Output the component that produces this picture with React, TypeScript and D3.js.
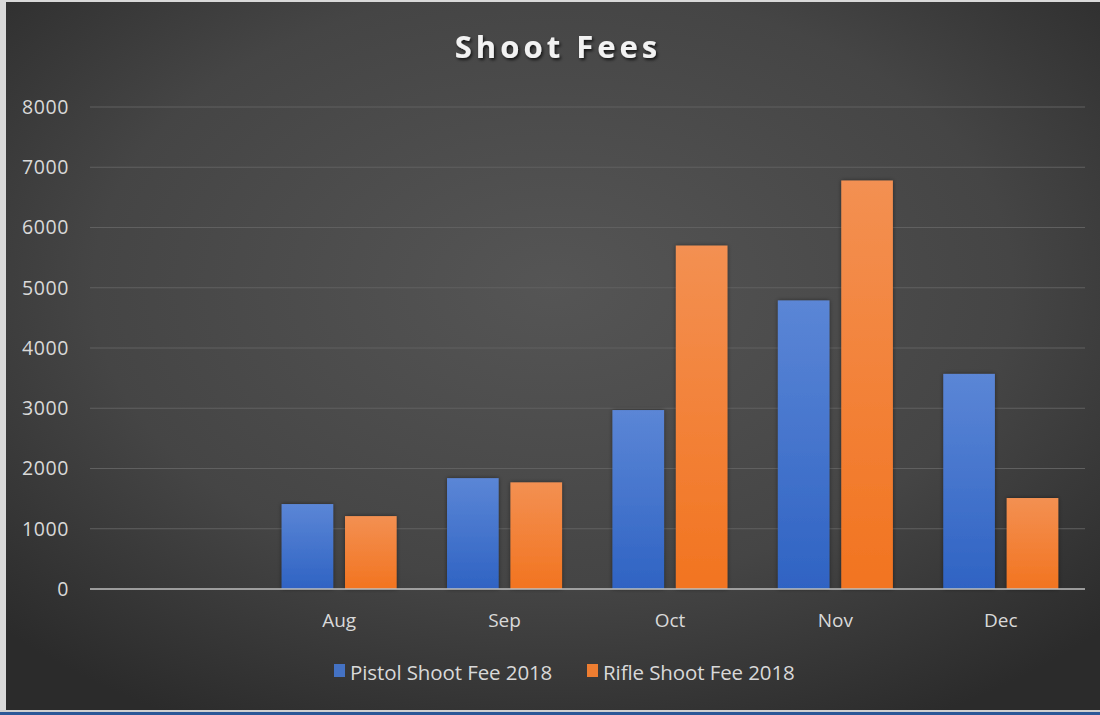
import React from "react";
import * as d3 from "d3";

const categories = ["", "Aug", "Sep", "Oct", "Nov", "Dec"];
const seriesNames = ["Pistol Shoot Fee 2018", "Rifle Shoot Fee 2018"];
const pistol = [null, 1410, 1840, 2970, 4790, 3570];
const rifle = [null, 1210, 1770, 5700, 6780, 1510];
const yTicks = [0, 1000, 2000, 3000, 4000, 5000, 6000, 7000, 8000];

const W = 1100;
const H = 715;
const FONT = "'Open Sans', 'DejaVu Sans', sans-serif";

export default function App() {
  const x0 = d3.scaleBand<string>().domain(categories).range([91, 1083.5]).padding(0);
  const bw = x0.bandwidth();
  const x1 = d3
    .scaleBand<string>()
    .domain(seriesNames)
    .range([25.2, bw - 25.2])
    .paddingInner(0.186)
    .paddingOuter(0);
  const y = d3.scaleLinear().domain([0, 8000]).range([589, 107]);
  const values = [pistol, rifle];
  const fills = ["url(#gBlue)", "url(#gOrange)"];
  const legendColors = ["#4472c4", "#ed7d31"];

  return (
    <svg
      width={W}
      height={H}
      style={{ position: "absolute", left: 0, top: 0, display: "block" }}
    >
      <defs>
        <radialGradient id="bg" cx="50%" cy="40%" r="70%">
          <stop offset="0%" stopColor="#555555" />
          <stop offset="60%" stopColor="#454545" />
          <stop offset="100%" stopColor="#2b2b2b" />
        </radialGradient>
        <linearGradient id="gBlue" x1="0" y1="0" x2="0" y2="1">
          <stop offset="0%" stopColor="#5b86d6" />
          <stop offset="100%" stopColor="#2f63c3" />
        </linearGradient>
        <linearGradient id="gOrange" x1="0" y1="0" x2="0" y2="1">
          <stop offset="0%" stopColor="#f39052" />
          <stop offset="100%" stopColor="#f27420" />
        </linearGradient>
        <filter id="shadow" x="-10%" y="-30%" width="120%" height="160%">
          <feDropShadow dx="1.5" dy="2" stdDeviation="1.5" floodColor="#000" floodOpacity="0.7" />
        </filter>
        <filter id="barShadow" x="-20%" y="-10%" width="140%" height="120%">
          <feDropShadow dx="0" dy="0" stdDeviation="2" floodColor="#000" floodOpacity="0.45" />
        </filter>
      </defs>

      {/* frame */}
      <rect x={0} y={0} width={W} height={H} fill="#d9d9d9" />
      <rect x={6} y={2} width={W - 6} height={708} fill="url(#bg)" />
      <rect x={0} y={710} width={W} height={2} fill="#cfcfcf" />
      <rect x={0} y={712} width={W} height={3} fill="#2b5797" />

      {/* title */}
      <text
        x={558}
        y={58}
        textAnchor="middle"
        fill="#f2f2f2"
        fontFamily={FONT}
        fontWeight={700}
        fontSize={31}
        letterSpacing={4}
        filter="url(#shadow)"
      >
        Shoot Fees
      </text>

      {/* gridlines */}
      {yTicks.map((t) =>
        t === 0 ? null : (
          <line
            key={t}
            x1={90}
            x2={1085}
            y1={y(t)}
            y2={y(t)}
            stroke="#606060"
            strokeWidth={1}
          />
        )
      )}

      {/* y tick labels */}
      {yTicks.map((t) => (
        <text
          key={"l" + t}
          x={69}
          y={y(t)}
          dy="0.35em"
          textAnchor="end"
          fill="#d9d9d9"
          fontFamily={FONT}
          fontSize={19.5}
          letterSpacing={0.6}
        >
          {t}
        </text>
      ))}

      {/* bars */}
      {values.map((vals, si) =>
        categories.map((c, ci) => {
          const v = vals[ci];
          if (v == null) return null;
          const xx = (x0(c) ?? 0) + (x1(seriesNames[si]) ?? 0);
          return (
            <rect
              key={si + "-" + ci}
              x={xx}
              y={y(v)}
              width={x1.bandwidth()}
              height={y(0) - y(v)}
              fill={fills[si]}
              filter="url(#barShadow)"
            />
          );
        })
      )}

      {/* axis line */}
      <line x1={90} x2={1085} y1={y(0)} y2={y(0)} stroke="#bfbfbf" strokeWidth={1.5} />

      {/* category labels */}
      {categories.map((c) => (
        <text
          key={"c" + c}
          x={(x0(c) ?? 0) + bw / 2}
          y={627}
          textAnchor="middle"
          fill="#d9d9d9"
          fontFamily={FONT}
          fontSize={19}
        >
          {c}
        </text>
      ))}

      {/* legend */}
      {seriesNames.map((s, i) => {
        const lx = i === 0 ? 334 : 587;
        return (
          <g key={s}>
            <rect x={lx} y={664} width={11} height={13} fill={legendColors[i]} />
            <text
              x={lx + 16}
              y={680}
              fill="#d9d9d9"
              fontFamily={FONT}
              fontSize={20.5}
              letterSpacing={-0.1}
            >
              {s}
            </text>
          </g>
        );
      })}
    </svg>
  );
}
